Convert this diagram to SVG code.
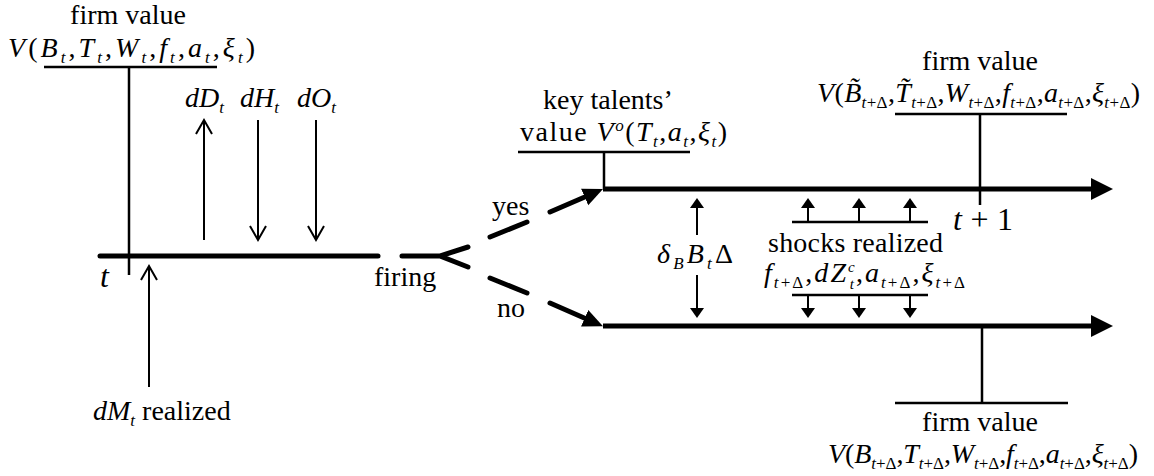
<svg xmlns="http://www.w3.org/2000/svg" width="1154" height="476" viewBox="0 0 1154 476" font-family="'Liberation Serif', 'Times New Roman', serif">
<style>
text { font-family: "Liberation Serif", "Times New Roman", serif; font-size: 28px; fill: #000; }
.i { font-style: italic; }
.s { font-size: 17px; }
.xs { font-size: 15px; }
.big { font-size: 32px; }
.thick { stroke: #000; stroke-width: 5; fill: none; stroke-linecap: round; }
.main { stroke: #000; stroke-width: 5; fill: none; }
.thin { stroke: #000; stroke-width: 2.5; fill: none; }
.arr { stroke: #000; stroke-width: 2; fill: none; }
</style>
<defs>
<marker id="open" markerUnits="userSpaceOnUse" markerWidth="20" markerHeight="20" viewBox="-16 -10 20 20" refX="0" refY="0" orient="auto">
<path d="M-14,-8 L0,0 L-14,8" fill="none" stroke="#000" stroke-width="2"/>
</marker>
<marker id="small" markerUnits="userSpaceOnUse" markerWidth="14" markerHeight="16" viewBox="-2 -8 14 16" refX="2" refY="0" orient="auto">
<path d="M0,-7 L10,0 L0,7 Z" fill="#000"/>
</marker>
<marker id="head" markerUnits="userSpaceOnUse" markerWidth="26" markerHeight="26" viewBox="0 -13 26 26" refX="2" refY="0" orient="auto">
<path d="M0,-11 L22,0 L0,11 Z" fill="#000"/>
</marker>
<marker id="mid" markerUnits="userSpaceOnUse" markerWidth="24" markerHeight="22" viewBox="0 -11 24 22" refX="2" refY="0" orient="auto">
<path d="M0,-9 L20,0 L0,9 Z" fill="#000"/>
</marker>
</defs>

<g id="connectors">
<line class="thick" x1="100" y1="256" x2="378" y2="256"/>
<path class="thick" d="M402,256 L440,256 M468,247 L440,256 L468,267"/>
<line class="thick" x1="490" y1="237" x2="527" y2="222"/>
<line class="thick" x1="490" y1="278" x2="527" y2="293"/>
<line class="thick" x1="550" y1="212" x2="586.5" y2="196.2" marker-end="url(#mid)"/>
<line class="thick" x1="550" y1="303" x2="586.5" y2="319" marker-end="url(#mid)"/>
<line class="main" x1="603" y1="189" x2="1093" y2="189" marker-end="url(#head)"/>
<line class="main" x1="603" y1="326" x2="1093" y2="326" marker-end="url(#head)"/>
<line class="arr" x1="204" y1="240" x2="204" y2="120" marker-end="url(#open)"/>
<line class="arr" x1="258" y1="120" x2="258" y2="240" marker-end="url(#open)"/>
<line class="arr" x1="316" y1="120" x2="316" y2="240" marker-end="url(#open)"/>
<line class="arr" x1="149" y1="387" x2="149" y2="266" marker-end="url(#open)"/>
<line class="arr" x1="697" y1="235" x2="697" y2="206" marker-end="url(#small)"/>
<line class="arr" x1="697" y1="275" x2="697" y2="310" marker-end="url(#small)"/>
<line class="arr" x1="808" y1="222" x2="808" y2="206" marker-end="url(#small)"/>
<line class="arr" x1="859" y1="222" x2="859" y2="206" marker-end="url(#small)"/>
<line class="arr" x1="910" y1="222" x2="910" y2="206" marker-end="url(#small)"/>
<line class="arr" x1="808" y1="295" x2="808" y2="310" marker-end="url(#small)"/>
<line class="arr" x1="859" y1="295" x2="859" y2="310" marker-end="url(#small)"/>
<line class="arr" x1="910" y1="295" x2="910" y2="310" marker-end="url(#small)"/>
</g>

<g id="firm-value-t">
<text x="128" y="24" text-anchor="middle">firm value</text>
<text x="8" y="57" textLength="247" lengthAdjust="spacing"><tspan class="i">V</tspan>(<tspan class="i">B</tspan><tspan class="i s" dy="6">t</tspan><tspan dy="-6">,</tspan><tspan class="i">T</tspan><tspan class="i s" dy="6">t</tspan><tspan dy="-6">,</tspan><tspan class="i">W</tspan><tspan class="i s" dy="6">t</tspan><tspan dy="-6">,</tspan><tspan class="i">f</tspan><tspan class="i s" dy="6">t</tspan><tspan dy="-6">,</tspan><tspan class="i">a</tspan><tspan class="i s" dy="6">t</tspan><tspan dy="-6">,</tspan><tspan class="i">ξ</tspan><tspan class="i s" dy="6">t</tspan><tspan dy="-6">)</tspan></text>
<path class="thin" d="M44,67 L217,67 M129,67 L129,275"/>
</g>

<g id="time-t">
<text x="100" y="287" class="i big">t</text>
</g>

<g id="cash-flows">
<text x="185" y="107"><tspan class="i">dD</tspan><tspan class="i s" dy="6">t</tspan></text>
<text x="240" y="107"><tspan class="i">dH</tspan><tspan class="i s" dy="6">t</tspan></text>
<text x="297" y="107"><tspan class="i">dO</tspan><tspan class="i s" dy="6">t</tspan></text>
</g>

<g id="dM-realized">
<text x="93" y="420"><tspan class="i">dM</tspan><tspan class="i s" dy="6">t</tspan><tspan dy="-6"> realized</tspan></text>
</g>

<g id="firing">
<text x="374" y="286">firing</text>
<text x="492" y="215">yes</text>
<text x="497" y="317">no</text>
</g>

<g id="key-talents">
<text x="543" y="109">key talents’</text>
<text x="520" y="141" textLength="207" lengthAdjust="spacing">value <tspan class="i">V</tspan><tspan class="i s" dy="-10">o</tspan><tspan dy="10">(</tspan><tspan class="i">T</tspan><tspan class="i s" dy="6">t</tspan><tspan dy="-6">,</tspan><tspan class="i">a</tspan><tspan class="i s" dy="6">t</tspan><tspan dy="-6">,</tspan><tspan class="i">ξ</tspan><tspan class="i s" dy="6">t</tspan><tspan dy="-6">)</tspan></text>
<path class="thin" d="M518,152 L690,152 M604,152 L604,189"/>
</g>

<g id="firm-value-yes">
<text x="980" y="70" text-anchor="middle">firm value</text>
<text x="817" y="102" textLength="323" lengthAdjust="spacing"><tspan class="i">V</tspan>(<tspan class="i">B̃</tspan><tspan class="i s" dy="6">t</tspan><tspan class="s">+Δ</tspan><tspan dy="-6">,</tspan><tspan class="i">T̃</tspan><tspan class="i s" dy="6">t</tspan><tspan class="s">+Δ</tspan><tspan dy="-6">,</tspan><tspan class="i">W</tspan><tspan class="i s" dy="6">t</tspan><tspan class="s">+Δ</tspan><tspan dy="-6">,</tspan><tspan class="i">f</tspan><tspan class="i s" dy="6">t</tspan><tspan class="s">+Δ</tspan><tspan dy="-6">,</tspan><tspan class="i">a</tspan><tspan class="i s" dy="6">t</tspan><tspan class="s">+Δ</tspan><tspan dy="-6">,</tspan><tspan class="i">ξ</tspan><tspan class="i s" dy="6">t</tspan><tspan class="s">+Δ</tspan><tspan dy="-6">)</tspan></text>
<path class="thin" d="M895,114 L1067,114 M980,114 L980,205"/>
</g>

<g id="time-t1">
<text x="953" y="230" class="big" textLength="60" lengthAdjust="spacing"><tspan class="i">t</tspan> + 1</text>
</g>

<g id="depreciation">
<text x="657" y="263" textLength="76" lengthAdjust="spacing"><tspan class="i">δ</tspan><tspan class="i s" dy="6">B</tspan><tspan class="i" dy="-6">B</tspan><tspan class="i s" dy="6">t</tspan><tspan dy="-6">Δ</tspan></text>
</g>

<g id="shocks">
<path class="thin" d="M792,222 L928,222 M792,295 L928,295"/>
<text x="768" y="252" textLength="175" lengthAdjust="spacing">shocks realized</text>
<text x="764" y="282" textLength="201" lengthAdjust="spacing"><tspan class="i">f</tspan><tspan class="i s" dy="6">t</tspan><tspan class="s">+Δ</tspan><tspan dy="-6">,</tspan><tspan class="i">dZ</tspan><tspan class="i xs" dy="-10.5">c</tspan><tspan class="i xs" dx="-7" dy="17.5">t</tspan><tspan dy="-7">,</tspan><tspan class="i">a</tspan><tspan class="i s" dy="6">t</tspan><tspan class="s">+Δ</tspan><tspan dy="-6">,</tspan><tspan class="i">ξ</tspan><tspan class="i s" dy="6">t</tspan><tspan class="s">+Δ</tspan></text>
</g>

<g id="firm-value-no">
<path class="thin" d="M982,326 L982,403 M895,403 L1068,403"/>
<text x="980" y="431" text-anchor="middle">firm value</text>
<text x="828" y="463" textLength="310" lengthAdjust="spacing"><tspan class="i">V</tspan>(<tspan class="i">B</tspan><tspan class="i s" dy="6">t</tspan><tspan class="s">+Δ</tspan><tspan dy="-6">,</tspan><tspan class="i">T</tspan><tspan class="i s" dy="6">t</tspan><tspan class="s">+Δ</tspan><tspan dy="-6">,</tspan><tspan class="i">W</tspan><tspan class="i s" dy="6">t</tspan><tspan class="s">+Δ</tspan><tspan dy="-6">,</tspan><tspan class="i">f</tspan><tspan class="i s" dy="6">t</tspan><tspan class="s">+Δ</tspan><tspan dy="-6">,</tspan><tspan class="i">a</tspan><tspan class="i s" dy="6">t</tspan><tspan class="s">+Δ</tspan><tspan dy="-6">,</tspan><tspan class="i">ξ</tspan><tspan class="i s" dy="6">t</tspan><tspan class="s">+Δ</tspan><tspan dy="-6">)</tspan></text>
</g>
</svg>
